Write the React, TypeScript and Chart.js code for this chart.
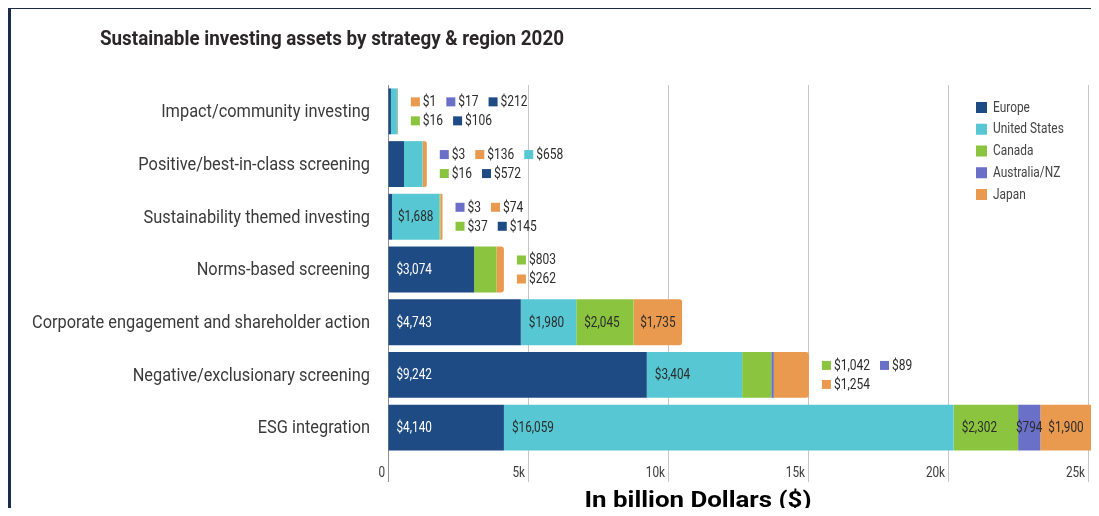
import React, { useEffect, useRef } from "react";
import { Chart, registerables } from "chart.js";

Chart.register(...registerables);

const categories = [
  "Impact/community investing",
  "Positive/best-in-class screening",
  "Sustainability themed investing",
  "Norms-based screening",
  "Corporate engagement and shareholder action",
  "Negative/exclusionary screening",
  "ESG integration",
];
const regions = ["Europe", "United States", "Canada", "Australia/NZ", "Japan"];
const europe = [106, 572, 145, 3074, 4743, 9242, 4140];
const unitedStates = [212, 658, 1688, 0, 1980, 3404, 16059];
const canada = [16, 16, 37, 803, 2045, 1042, 2302];
const australiaNZ = [17, 3, 3, 0, 0, 89, 794];
const japan = [1, 136, 74, 262, 1735, 1254, 1900];
const regionColors = ["#1f4b85", "#57c8d3", "#8bc53f", "#6a6fc8", "#e99a4f"];
const xTickValues = [0, 5000, 10000, 15000, 20000, 25000];
const xTickLabels = ["0", "5k", "10k", "15k", "20k", "25k"];
const chartTitle = "Sustainable investing assets by strategy & region 2020";
const axisCaption = "In billion Dollars ($)";

// callouts drawn beside small bars: rows of [seriesIndex, swatchSeriesIndex]
const calloutRows: number[][][][] = [
  [[[4, 4], [3, 3], [1, 0]], [[2, 2], [0, 0]]],
  [[[3, 3], [4, 4], [1, 1]], [[2, 2], [0, 0]]],
  [[[3, 3], [4, 4]], [[2, 2], [0, 0]]],
  [[[2, 2]], [[4, 4]]],
  [],
  [[[2, 2], [3, 3]], [[4, 4]]],
  [],
];

const series = [europe, unitedStates, canada, australiaNZ, japan];

const FONT = "Roboto, 'Noto Sans', sans-serif";
const CAP_FONT = "bold 22px Roboto, 'Open Sans', sans-serif";
const SX = 0.84;

const fmt = (v: number) => "$" + v.toLocaleString("en-US");

const isCallout = (cat: number, s: number) =>
  calloutRows[cat].some((row) => row.some((it) => it[0] === s));

function drawText(
  ctx: CanvasRenderingContext2D,
  text: string,
  x: number,
  y: number,
  font: string,
  color: string,
  align: "left" | "right" | "center",
  sx: number
) {
  ctx.save();
  ctx.font = font;
  ctx.textBaseline = "middle";
  const w = ctx.measureText(text).width * sx;
  const left = align === "left" ? x : align === "right" ? x - w : x - w / 2;
  ctx.translate(left, y);
  ctx.scale(sx, 1);
  ctx.textAlign = "left";
  ctx.fillStyle = color;
  ctx.fillText(text, 0, 0);
  ctx.restore();
  return w;
}

function textWidth(ctx: CanvasRenderingContext2D, text: string, font: string) {
  ctx.save();
  ctx.font = font;
  const w = ctx.measureText(text).width;
  ctx.restore();
  return w;
}

const overlayPlugin = {
  id: "overlay",
  afterDatasetsDraw(chart: any) {
    const ctx: CanvasRenderingContext2D = chart.ctx;
    const xs = chart.scales.x;
    const ys = chart.scales.y;
    const barFont = `14px ${FONT}`;
    // in-bar labels
    chart.data.datasets.forEach((ds: any, di: number) => {
      const meta = chart.getDatasetMeta(di);
      meta.data.forEach((bar: any, ci: number) => {
        const v = ds.data[ci];
        if (!v || isCallout(ci, di)) return;
        const txt = fmt(v);
        const w = textWidth(ctx, txt, barFont) * SX;
        const start = bar.base;
        const end = bar.x;
        let x = start + 8;
        if (w + 14 > end - start) x = (start + end) / 2 - w / 2;
        drawText(ctx, txt, x, bar.y + 1, barFont, di === 0 ? "#ffffff" : "#2b2b2b", "left", SX);
      });
    });
    // callouts
    const coFont = `15px ${FONT}`;
    categories.forEach((_, ci) => {
      const rows = calloutRows[ci];
      if (!rows.length) return;
      let total = 0;
      series.forEach((s) => (total += s[ci]));
      const endX = xs.getPixelForValue(total);
      const barY = chart.getDatasetMeta(0).data[ci].y;
      rows.forEach((row, ri) => {
        const y = barY + (ri === 0 ? -9.5 : 9.5);
        let x = endX + 13;
        row.forEach(([s, sw]) => {
          ctx.fillStyle = regionColors[sw];
          ctx.fillRect(x, y - 4.5, 9, 9);
          const w = drawText(ctx, fmt(series[s][ci]), x + 12, y + 0.5, coFont, "#2b2b2b", "left", 0.8);
          x += 12 + w + 10;
        });
      });
    });
    // y category labels
    const yFont = `19px ${FONT}`;
    const longest = categories.reduce((a, b) => (b.length > a.length ? b : a));
    const ysx = 338 / textWidth(ctx, longest, yFont);
    categories.forEach((c, i) => {
      drawText(ctx, c, 362, ys.getPixelForTick(i) + 1, yFont, "#3a3a3a", "right", ysx);
    });
    // x tick labels
    const xFont = `14px ${FONT}`;
    xTickValues.forEach((v, i) => {
      drawText(ctx, xTickLabels[i], xs.getPixelForValue(v) - 3, 465, xFont, "#3a3a3a", "right", SX);
    });
    // legend
    const lgFont = `14.5px ${FONT}`;
    regions.forEach((r, i) => {
      const y = 99.5 + i * 21.75;
      ctx.fillStyle = regionColors[i];
      ctx.fillRect(968, y - 5.5, 11, 11);
      drawText(ctx, r, 985, y + 0.5, lgFont, "#444444", "left", 0.82);
    });
    // title
    const tFont = `bold 20px ${FONT}`;
    const tsx = 464 / textWidth(ctx, chartTitle, tFont);
    drawText(ctx, chartTitle, 92, 32, tFont, "#2b2728", "left", tsx);
    // caption
    drawText(ctx, axisCaption, 690, 493, CAP_FONT, "#000000", "center", 227 / textWidth(ctx, axisCaption, CAP_FONT));
  },
};

export default function App() {
  const ref = useRef<HTMLCanvasElement | null>(null);
  useEffect(() => {
    document.documentElement.style.overflow = "hidden";
    const chart = new Chart(ref.current as HTMLCanvasElement, {
      type: "bar",
      data: {
        labels: categories,
        datasets: series.map((d, i) => ({
          label: regions[i],
          data: d,
          backgroundColor: regionColors[i],
          borderWidth: 0,
          borderRadius: i === 4 ? 3 : 0,
          borderSkipped: "start",
          barPercentage: 0.87,
          categoryPercentage: 1,
        })),
      },
      options: {
        indexAxis: "y",
        responsive: false,
        animation: false,
        layout: { padding: { top: 77, right: 0, left: 0, bottom: 0 } },
        plugins: {
          legend: { display: false },
          tooltip: { enabled: false },
          title: { display: false },
        },
        scales: {
          x: {
            stacked: true,
            min: 0,
            max: 25390,
            afterBuildTicks: (s: any) => {
              s.ticks = xTickValues.map((v) => ({ value: v }));
            },
            ticks: { display: false },
            grid: {
              color: (c: any) => (c.tick && c.tick.value === 0 ? "#8f8f8f" : "#c6c6c6"),
              tickLength: 28,
              drawTicks: true,
            },
            border: { display: false },
            afterFit: (s: any) => {
              s.height = 62;
            },
          },
          y: {
            stacked: true,
            grid: { display: false, drawTicks: false },
            border: { display: false },
            ticks: { display: false },
            afterFit: (s: any) => {
              s.width = 380;
            },
          },
        },
      } as any,
      plugins: [overlayPlugin],
    });
    return () => chart.destroy();
  }, []);
  return (
    <div style={{ position: "relative", width: 1091, height: 508, marginBottom: -8 }}>
      <canvas
        ref={ref}
        width={1091}
        height={508}
        style={{ position: "absolute", left: 0, top: 0, width: 1091, height: 508 }}
      />
      <div
        style={{
          position: "absolute",
          left: 0,
          top: -2,
          width: 1091,
          height: 510,
          boxSizing: "border-box",
          borderLeft: "3px solid #1b2b48",
          borderTop: "3px solid #1b2b48",
          borderBottom: "1px solid #a9b0b8",
          pointerEvents: "none",
        }}
      />
    </div>
  );
}
